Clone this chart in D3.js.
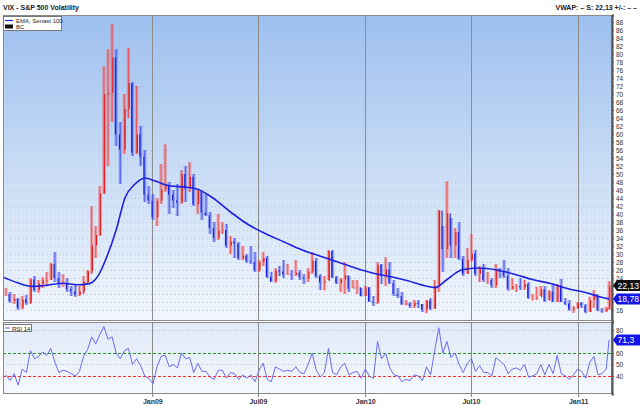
<!DOCTYPE html>
<html><head><meta charset="utf-8">
<script src="https://cdn.jsdelivr.net/npm/d3@7/dist/d3.min.js"></script>
<style>body{margin:0;background:#fff;}svg{display:block;font-family:"Liberation Sans",Arial,sans-serif;}</style>
</head><body><svg id="c" width="640" height="406"></svg>
<script>
// ---------- DATA ----------
const weekStart = "2008-04-25"; // first weekly bar (Fridays)
const highs = [21.5,20.5,20.0,19.0,19.5,19.8,24.0,24.5,23.5,24.2,25.5,27.8,30.5,25.5,25.0,24.0,22.0,22.5,22.0,24.5,26.0,42.0,37.0,47.0,76.9,81.2,87.5,81.2,63.0,70.0,81.5,73.0,72.0,62.0,56.0,47.0,45.0,
 44.0,52.5,57.4,48.0,46.0,47.5,51.0,52.0,53.0,50.0,46.0,45.5,45.0,40.5,38.0,40.0,38.0,37.5,34.5,34.0,33.0,32.0,30.0,32.0,30.5,28.5,30.5,29.5,25.5,26.5,27.0,28.5,27.5,26.0,28.5,26.0,25.0,26.5,30.5,29.0,25.0,24.5,31.0,31.0,24.5,24.0,28.0,24.5,23.5,23.5,21.5,22.0,
 21.7,19.5,28.0,27.5,29.2,28.0,23.5,21.5,20.5,18.5,18.0,18.5,18.5,17.5,18.5,19.0,23.5,41.0,37.0,48.2,39.0,36.5,38.0,29.5,31.5,35.0,31.0,27.0,27.5,25.5,24.0,27.5,26.5,28.5,26.5,24.0,22.5,24.0,23.5,23.0,20.0,21.8,22.0,22.0,21.0,22.5,22.5,23.8,19.0,18.5,17.0,18.0,
 18.0,17.5,19.3,21.0,19.5,16.5,16.8,23.2];
const lows = [19.5,17.8,17.5,16.0,16.2,17.3,17.5,20.5,20.3,21.5,22.0,23.5,23.0,21.5,21.8,20.5,19.5,19.3,19.5,20.0,22.5,25.0,29.0,34.5,45.0,52.0,63.0,57.0,47.5,55.0,64.0,54.5,55.0,52.0,43.0,42.5,38.5,
 37.0,42.5,45.5,40.0,41.5,39.5,42.5,43.0,45.5,42.0,40.0,38.5,39.5,35.0,33.0,33.5,35.0,31.5,30.0,29.0,28.5,28.5,27.8,27.5,25.5,25.5,27.0,24.0,23.0,22.8,24.5,24.0,24.8,23.5,24.5,23.5,22.5,23.0,25.0,24.0,21.0,20.9,23.5,24.0,22.5,20.5,20.0,20.5,21.5,20.0,19.4,19.5,
 18.0,17.0,17.5,22.5,22.0,22.5,19.5,19.0,17.3,17.2,16.5,16.5,16.5,15.5,15.2,16.0,16.3,20.5,25.5,29.0,29.0,29.0,28.5,24.5,25.0,28.0,24.5,23.0,23.0,22.5,21.5,21.5,24.0,24.0,20.8,21.0,20.5,21.0,21.0,18.8,18.4,18.5,19.5,18.0,18.5,18.0,18.0,18.0,17.2,15.8,15.3,16.3,
 16.5,15.2,15.5,16.5,15.7,15.3,15.5,16.0];
const closes = [20.0,18.2,18.8,16.5,18.7,17.8,23.6,21.0,22.6,23.4,23.5,27.5,24.0,22.5,22.6,21.2,20.6,19.8,20.65,23.0,25.7,32.1,34.7,45.1,69.95,70.3,79.1,59.9,56.1,66.3,72.7,55.3,59.9,54.3,44.9,43.4,39.2,
 43.3,46.1,47.3,44.8,43.4,42.9,50.0,46.4,49.3,42.4,45.9,40.4,39.7,36.5,34.0,35.8,36.0,32.1,33.1,32.6,28.9,29.6,28.2,28.0,25.9,27.95,29.0,24.3,23.1,25.9,25.6,24.9,25.0,24.8,25.3,24.2,23.9,25.6,28.3,24.5,22.9,23.2,30.7,24.2,22.7,23.7,24.7,21.3,21.6,21.7,19.5,21.7,
 18.1,17.9,27.3,24.6,26.1,22.7,20.0,19.5,17.4,17.6,17.0,17.8,17.5,16.1,18.4,16.3,22.05,40.9,31.2,40.1,32.1,35.5,28.8,25.0,28.5,30.1,25.0,26.3,23.5,23.5,22.1,26.2,25.5,24.5,21.3,22.0,22.0,21.7,22.5,19.0,19.0,19.1,21.2,18.3,20.6,18.0,22.2,18.0,17.6,16.1,16.5,17.75,
 17.1,15.5,18.5,20.0,15.9,15.7,16.4,22.13];
const rsi14 = [41,36,42,32,46,43,62,55,57,61,58,64,52,43,45,44,42,40,44,57,63,74,68,76,83,72,74,60,55,62,64,50,55,49,40,38,33,
 48,57,58,48,50,47,60,55,56,43,51,44,44,39,37,45,45,38,43,42,37,41,38,41,35,45,51,37,35,48,46,44,45,44,48,43,42,50,60,45,39,43,64,43,41,48,51,41,43,44,38,46,
 40,38,70,55,60,47,41,40,35,37,36,41,40,36,48,41,62,82,60,70,56,60,50,43,51,55,44,49,43,43,40,56,53,50,42,46,47,45,50,39,40,42,50,41,50,42,58,42,40,37,41,46,
 44,38,52,57,41,42,46,71.3];
const emaDates = ["2008-04-20","2008-05-15","2008-06-10","2008-07-05","2008-08-01","2008-08-25","2008-09-15","2008-10-01","2008-10-15","2008-11-01","2008-11-15","2008-12-01","2008-12-20","2009-01-05","2009-02-01","2009-03-01","2009-03-20","2009-04-15","2009-05-15","2009-06-15","2009-07-15","2009-08-15","2009-09-15","2009-10-15","2009-11-15","2009-12-15","2010-01-15","2010-02-15","2010-03-15","2010-04-15","2010-05-01","2010-05-20","2010-06-15","2010-07-15","2010-08-15","2010-09-15","2010-10-15","2010-11-15","2010-12-15","2011-01-15","2011-02-10","2011-02-23"];
const emaValues = [24.2,22.8,21.9,22.2,22.7,22.3,22.6,24.8,29.3,36.5,44.0,47.3,49.0,48.3,47.0,46.7,46.2,44.0,40.5,37.3,35.0,33.0,31.0,29.5,28.0,26.5,25.2,24.3,23.3,22.0,21.6,23.5,26.0,26.5,26.0,24.9,23.6,22.6,21.3,20.3,19.2,18.78];
const xTickDates = ["2009-01-01","2009-07-01","2010-01-01","2010-07-01","2011-01-01"];
const xTickLabels = ["Jan09","Jul09","Jan10","Jul10","Jan11"];
const yTicks = d3.range(16, 89, 2);
const rsiTicks = [40, 50, 60, 80];
const lastClose = "22,13", lastEma = "18,78", lastRsi = "71,3";

// ---------- LAYOUT ----------
const svg = d3.select("#c");
const L = 3, R = 612;
const mTop = 15, mBot = 321, rTop = 322, rBot = 394;
const parse = d3.timeParse("%Y-%m-%d");
const x = d3.scaleTime().domain([parse("2008-04-20"), parse("2011-02-28")]).range([L, R]);
const y = d3.scaleLinear().domain([13.25, 89.75]).range([mBot, mTop]);
const yr = d3.scaleLinear().domain([24.3, 87]).range([rBot, rTop]);
const start = parse(weekStart);
const weeks = closes.map((c, i) => ({date: d3.timeDay.offset(start, i * 7), h: highs[i], l: lows[i], c, o: i ? closes[i-1] : closes[0]}));
weeks[weeks.length-1].date = parse("2011-02-23");

const defs = svg.append("defs");
const g1 = defs.append("linearGradient").attr("id","gMain").attr("x1",0).attr("y1",0).attr("x2",0).attr("y2",1);
g1.append("stop").attr("offset","0%").attr("stop-color","#9dc0ef");
g1.append("stop").attr("offset","55%").attr("stop-color","#cddff6");
g1.append("stop").attr("offset","100%").attr("stop-color","#f1f6fd");
const g2 = defs.append("linearGradient").attr("id","gRsi").attr("x1",0).attr("y1",0).attr("x2",0).attr("y2",1);
g2.append("stop").attr("offset","0%").attr("stop-color","#dfe9f8");
g2.append("stop").attr("offset","100%").attr("stop-color","#f6f9fe");
defs.append("clipPath").attr("id","cpM").append("rect").attr("x",L).attr("y",mTop).attr("width",R-L).attr("height",mBot-mTop);
defs.append("clipPath").attr("id","cpR").append("rect").attr("x",L).attr("y",rTop).attr("width",R-L).attr("height",rBot-rTop);

// titles
svg.append("text").attr("x",3).attr("y",10).attr("font-size",7).attr("font-weight","bold").attr("fill","#222").text("VIX - S&P 500 Volatility");
svg.append("text").attr("x",637).attr("y",10).attr("text-anchor","end").attr("font-size",7).attr("font-weight","bold").attr("fill","#222")
  .text("VWAP: –   S: 22,13  +/-: –  –");

// panels
svg.append("rect").attr("x",L).attr("y",mTop).attr("width",R-L).attr("height",mBot-mTop).attr("fill","url(#gMain)");
svg.append("rect").attr("x",L).attr("y",rTop).attr("width",R-L).attr("height",rBot-rTop).attr("fill","url(#gRsi)");

// horizontal dotted grid (main)
svg.append("g").selectAll("line").data(yTicks).join("line")
  .attr("x1",L).attr("x2",R).attr("y1",d=>Math.round(y(d))+0.5).attr("y2",d=>Math.round(y(d))+0.5)
  .attr("stroke","#8fa88f").attr("stroke-opacity",0.55).attr("stroke-dasharray","1,3");
// rsi grid
svg.append("g").selectAll("line").data([50,80]).join("line")
  .attr("x1",L).attr("x2",R).attr("y1",d=>Math.round(yr(d))+0.5).attr("y2",d=>Math.round(yr(d))+0.5)
  .attr("stroke","#9aa0b0").attr("stroke-opacity",0.6).attr("stroke-dasharray","1,2");

// vertical grid
const xt = xTickDates.map(parse);
[ [mTop,mBot], [rTop,rBot] ].forEach(([a,b]) => {
  svg.append("g").selectAll("line").data(xt).join("line")
    .attr("x1",d=>Math.round(x(d))+0.5).attr("x2",d=>Math.round(x(d))+0.5).attr("y1",a).attr("y2",b)
    .attr("stroke","#8c8c8c").attr("stroke-width",1);
});

// bars
const up = d => d.c >= d.o;
const bars = svg.append("g").attr("clip-path","url(#cpM)");
bars.selectAll("line.b").data(weeks).join("line").attr("class","b")
  .attr("x1",d=>x(d.date)).attr("x2",d=>x(d.date)).attr("y1",d=>y(d.h)).attr("y2",d=>y(d.l))
  .attr("stroke",d=>up(d)?"#f25a5a":"#5460ee").attr("stroke-width",3.4).attr("stroke-opacity",0.42);
bars.selectAll("line.w").data(weeks).join("line").attr("class","w")
  .attr("x1",d=>x(d.date)).attr("x2",d=>x(d.date)).attr("y1",d=>y(d.h)).attr("y2",d=>y(d.l))
  .attr("stroke",d=>up(d)?"#ee3a3a":"#3a46ea").attr("stroke-width",0.9).attr("stroke-opacity",0.85);
bars.selectAll("line.t").data(weeks).join("line").attr("class","t")
  .attr("x1",d=>x(d.date)+(up(d)?0.8:-0.8)).attr("x2",d=>x(d.date)+(up(d)?0.8:-0.8))
  .attr("y1",d=>y(Math.max(d.o,d.c))).attr("y2",d=>y(Math.min(d.o,d.c)))
  .attr("stroke",d=>up(d)?"#e01818":"#1620d8").attr("stroke-width",1.1);

// EMA
const ema = emaDates.map((d,i)=>({date:parse(d), v:emaValues[i]}));
svg.append("path").datum(ema).attr("clip-path","url(#cpM)")
  .attr("d", d3.line().x(d=>x(d.date)).y(d=>y(d.v)).curve(d3.curveMonotoneX))
  .attr("fill","none").attr("stroke","#1c22e0").attr("stroke-width",1.6);

// RSI ref lines
svg.append("line").attr("x1",L).attr("x2",R).attr("y1",Math.round(yr(60))+0.5).attr("y2",Math.round(yr(60))+0.5)
  .attr("stroke","#1e9a1e").attr("stroke-dasharray","3,2");
svg.append("line").attr("x1",L).attr("x2",R).attr("y1",Math.round(yr(40))+0.5).attr("y2",Math.round(yr(40))+0.5)
  .attr("stroke","#ff2a2a").attr("stroke-dasharray","3,2");
// RSI line
const rsiData = weeks.map((w,i)=>({date:w.date, v:rsi14[i]}));
svg.append("path").datum(rsiData).attr("clip-path","url(#cpR)")
  .attr("d", d3.line().x(d=>x(d.date)).y(d=>yr(d.v)))
  .attr("fill","none").attr("stroke","#6a6af2").attr("stroke-width",1);

// borders
svg.append("rect").attr("x",L+0.5).attr("y",mTop+0.5).attr("width",R-L-1).attr("height",mBot-mTop-1).attr("fill","none").attr("stroke","#8a8a8a");
svg.append("rect").attr("x",L+0.5).attr("y",rTop+0.5).attr("width",R-L-1).attr("height",rBot-rTop-1).attr("fill","none").attr("stroke","#8a8a8a");

// right axes (labels hidden under value tags are skipped, as in the original)
const tagsMain = [22.13, 18.78].map(v => y(v));
const axM = svg.append("g").attr("transform",`translate(${R},0)`)
  .call(d3.axisRight(y).tickValues(yTicks).tickSize(2).tickPadding(2)
    .tickFormat(d => tagsMain.some(t => Math.abs(t - y(d)) < 7) ? "" : d3.format("d")(d)));
const axR = svg.append("g").attr("transform",`translate(${R},0)`)
  .call(d3.axisRight(yr).tickValues(rsiTicks).tickSize(2).tickPadding(2).tickFormat(d3.format("d")));
[axM, axR].forEach(a => {
  a.select(".domain").attr("stroke","#555").attr("stroke-width",2);
  a.selectAll(".tick line").attr("stroke","#555");
  a.selectAll("text").attr("font-size",6.5).attr("fill","#333").attr("font-family","Liberation Sans, Arial, sans-serif");
});
// bottom axis
const axB = svg.append("g").attr("transform",`translate(0,${rBot})`)
  .call(d3.axisBottom(x).tickValues(xt).tickSize(3).tickPadding(2).tickFormat((d,i)=>xTickLabels[i]));
axB.select(".domain").remove();
axB.selectAll(".tick line").attr("stroke","#777");
axB.selectAll("text").attr("font-size",7).attr("font-weight","bold").attr("fill","#333").attr("font-family","Liberation Sans, Arial, sans-serif");

// value tags
function tag(v, scale, fill, txt){
  const yy = scale(v);
  const gg = svg.append("g");
  gg.append("path").attr("d",`M${R+1},${yy} L${R+5},${yy-5.5} L640,${yy-5.5} L640,${yy+5.5} L${R+5},${yy+5.5} Z`).attr("fill",fill);
  gg.append("text").attr("x",R+5.5).attr("y",yy+3.3).attr("font-size",8.6).attr("fill","#fff").text(txt);
}
tag(22.13, y, "#111", lastClose);
tag(18.78, y, "#1414e6", lastEma);
tag(71.3, yr, "#1414e6", lastRsi);

// legends
const lg = svg.append("g");
lg.append("rect").attr("x",3.5).attr("y",16.5).attr("width",58).attr("height",14).attr("fill","#fff").attr("stroke","#777");
lg.append("line").attr("x1",5).attr("x2",13).attr("y1",20.5).attr("y2",20.5).attr("stroke","#1c22e0").attr("stroke-width",1.2);
lg.append("text").attr("x",16).attr("y",22.5).attr("font-size",6).attr("fill","#222").text("EMA, Senast 100");
lg.append("rect").attr("x",5).attr("y",24.5).attr("width",8).attr("height",4).attr("fill","#111");
lg.append("text").attr("x",16).attr("y",29).attr("font-size",6).attr("fill","#222").text("BC");
lg.append("rect").attr("x",3.5).attr("y",324.5).attr("width",28).attr("height",7).attr("fill","#fff").attr("stroke","#777");
lg.append("line").attr("x1",5).attr("x2",10).attr("y1",328).attr("y2",328).attr("stroke","#5a5af0");
lg.append("text").attr("x",12).attr("y",330.5).attr("font-size",6).attr("fill","#222").text("RSI  14");
</script></body></html>
